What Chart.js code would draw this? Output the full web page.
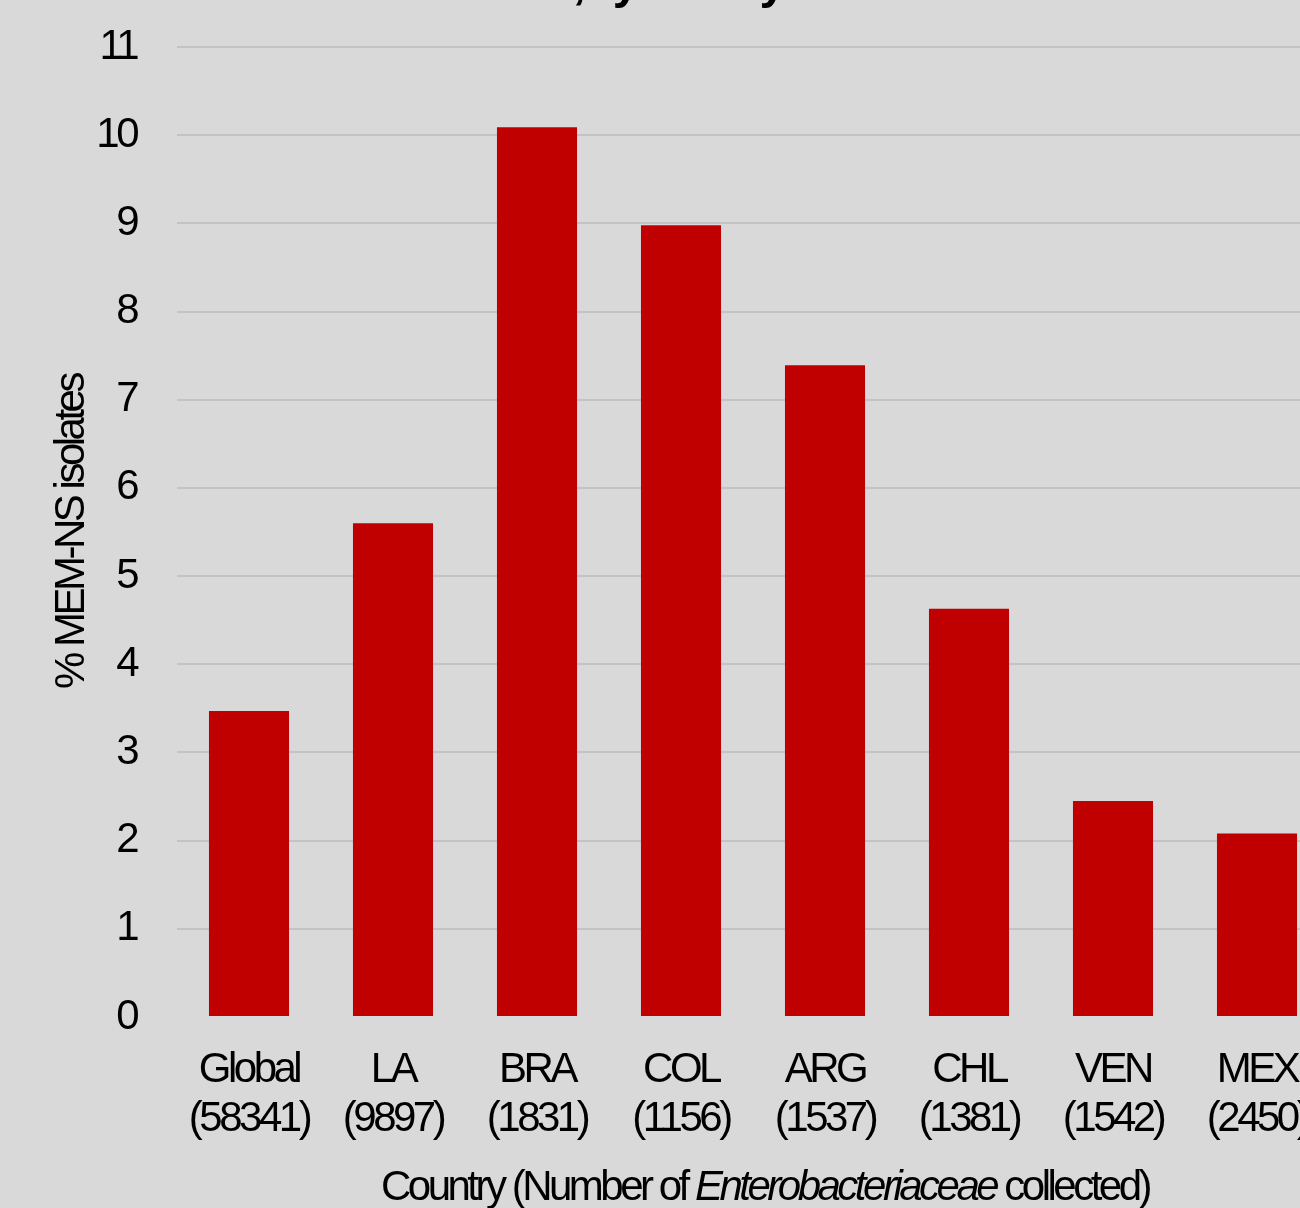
<!DOCTYPE html>
<html>
<head>
<meta charset="utf-8">
<script src="https://cdn.jsdelivr.net/npm/chart.js@4.4.1/dist/chart.umd.min.js"></script>
<style>
  html, body { margin: 0; padding: 0; background: #d9d9d9; overflow: hidden; }
  #clip { position: relative; width: 1300px; height: 1208px; overflow: hidden; }
  #wrap { position: absolute; left: 0; top: 0; width: 1340px; height: 1208px; }
</style>
</head>
<body>
<div id="clip"><div id="wrap"><canvas id="barChart"></canvas></div></div>
<script>
// chart data
const countries = ['Global', 'LA', 'BRA', 'COL', 'ARG', 'CHL', 'VEN', 'MEX'];
const collected = ['58341', '9897', '1831', '1156', '1537', '1381', '1542', '2450'];
const memNsPct = [3.47, 5.6, 10.09, 8.98, 7.39, 4.63, 2.45, 2.08];
const yTicks = [0, 1, 2, 3, 4, 5, 6, 7, 8, 9, 10, 11];

const fontName = '"Liberation Sans Narrow", "Arial Narrow", "Liberation Sans", Arial, sans-serif';
const titleText = '% MEM-NS Enterobacteriaceae isolates, by country';

// labels are two lines: country / (count)
const labels = countries.map(function(c, i){ return [c, '(' + collected[i] + ')']; });

// no narrow font installed, so squeeze the letters a bit
const narrowPlugin = {
  id: 'narrow',
  beforeUpdate: function(chart){ chart.ctx.letterSpacing = '-3.5px'; },
  beforeDraw: function(chart){ chart.ctx.letterSpacing = '-3.5px'; }
};

// title (cut off at the top) and x axis title with italic part
const textPlugin = {
  id: 'textPlugin',
  afterDraw: function(chart){
    const ctx = chart.ctx;
    const area = chart.chartArea;
    ctx.save();
    ctx.fillStyle = '#000';
    ctx.textBaseline = 'alphabetic';

    ctx.font = 'bold 48px ' + fontName;
    ctx.letterSpacing = '-5.3px';
    ctx.textAlign = 'right';
    ctx.fillText(titleText, area.left + 604, -2);

    ctx.letterSpacing = '-3.5px';
    const parts = [
      { t: 'Country (Number of ', f: '42px ' + fontName },
      { t: 'Enterobacteriaceae', f: 'italic 42px ' + fontName },
      { t: ' collected)', f: '42px ' + fontName }
    ];
    let total = 0;
    parts.forEach(function(p){ ctx.font = p.f; p.w = ctx.measureText(p.t).width; total += p.w; });
    let x = (area.left + area.right) / 2 + 12 - total / 2;
    ctx.textAlign = 'left';
    parts.forEach(function(p){ ctx.font = p.f; ctx.fillText(p.t, x, 1200); x += p.w; });
    ctx.restore();
  }
};

const myChart = document.getElementById('barChart');
let barChart = new Chart(myChart, {
  type: 'bar',
  data: {
    labels: labels,
    datasets: [{
      data: memNsPct,
      backgroundColor: '#c00000',
      barPercentage: 0.556,
      categoryPercentage: 1
    }]
  },
  options: {
    responsive: true,
    maintainAspectRatio: false,
    animation: false,
    layout: { padding: { left: 0, right: 11, top: 47, bottom: 64 } },
    plugins: {
      legend: { display: false },
      title: { display: false },
      tooltip: { enabled: false }
    },
    scales: {
      x: {
        afterFit: function(axis){ axis.height = 127; },
        grid: { display: false },
        border: { display: false },
        ticks: {
          color: '#000',
          padding: 21,
          maxRotation: 0,
          autoSkip: false,
          font: { family: fontName, size: 42, lineHeight: 1.167 }
        }
      },
      y: {
        min: 0,
        max: 11,
        afterBuildTicks: function(axis){ axis.ticks = yTicks.map(function(v){ return { value: v }; }); },
        afterFit: function(axis){ axis.width = 177; axis.paddingTop = 24; axis.paddingBottom = 24; },
        grid: {
          drawTicks: false,
          lineWidth: 2,
          color: function(c){ return c.tick && c.tick.value === 0 ? 'rgba(0,0,0,0)' : '#c3c3c3'; }
        },
        border: { display: false },
        ticks: {
          color: '#000',
          padding: 41,
          font: { family: fontName, size: 42, lineHeight: 1.167 }
        },
        title: {
          display: true,
          text: '% MEM-NS isolates',
          color: '#000',
          padding: { top: 47, bottom: 3 },
          font: { family: fontName, size: 42, lineHeight: 1.2 }
        }
      }
    }
  },
  plugins: [narrowPlugin, textPlugin]
});
</script>
</body>
</html>
